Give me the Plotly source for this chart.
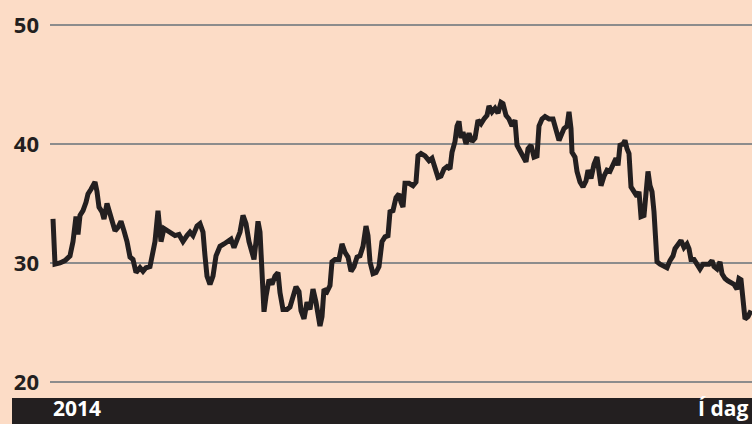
import plotly.graph_objects as go

# time offset (trading-day scale) and share price values
t = [1, 3, 8, 13, 18, 21, 24, 26, 28, 31, 34, 36, 39, 43, 45, 47, 50, 52, 55, 58,
     60, 63, 66, 69, 72, 75, 78, 81, 84, 88, 91, 94, 98, 100, 103, 106, 109, 112, 115, 118,
     123, 127, 131, 135, 138, 141, 145, 148, 151, 153, 155, 158, 161, 164, 168, 172, 176, 179, 182, 185,
     188, 191, 194, 197, 200, 202, 204, 206, 208, 210, 212, 214, 217, 220, 223, 226, 228, 231, 235, 238,
     241, 244, 247, 249, 252, 255, 258, 261, 264, 266, 268, 270, 272, 275, 278, 280, 283, 287, 290, 293,
     296, 299, 302, 305, 308, 311, 314, 316, 318, 321, 324, 327, 330, 333, 336, 338, 341, 344, 347, 349,
     351, 353, 357, 361, 364, 366, 369, 373, 377, 380, 383, 386, 389, 392, 395, 398, 400, 403, 405, 407,
     409, 411, 414, 417, 420, 423, 426, 429, 432, 435, 437, 440, 443, 446, 449, 451, 454, 457, 460, 463,
     465, 468, 471, 474, 476, 479, 482, 485, 487, 490, 493, 497, 501, 504, 507, 510, 512, 515, 517, 519,
     520, 523, 525, 528, 531, 534, 536, 539, 542, 545, 547, 549, 552, 555, 558, 561, 564, 566, 568, 571,
     573, 575, 577, 579, 582, 585, 587, 589, 592, 594, 596, 598, 600, 602, 603, 605, 608, 612, 615, 618,
     621, 623, 626, 629, 632, 635, 637, 639, 642, 645, 648, 651, 654, 657, 660, 662, 665, 668, 670, 673,
     676, 679, 682, 685, 687, 689, 691, 693, 696, 699]

price = [33.7, 29.9, 30.0, 30.2, 30.6, 31.8, 33.9, 32.4, 34.0, 34.4, 35.1, 35.8, 36.2, 36.8, 36.0, 34.7, 34.3, 33.7, 35.0, 34.1,
         33.5, 32.7, 33.0, 33.5, 32.7, 31.8, 30.5, 30.3, 29.2, 29.6, 29.3, 29.6, 29.7, 30.6, 31.8, 34.4, 31.8, 32.9, 32.7, 32.6,
         32.3, 32.4, 31.8, 32.3, 32.6, 32.3, 33.1, 33.3, 32.6, 30.6, 28.9, 28.2, 28.9, 30.6, 31.4, 31.6, 31.9, 32.0, 31.3, 31.9,
         32.6, 34.0, 33.3, 31.8, 30.8, 30.3, 31.8, 33.5, 32.6, 29.2, 25.9, 27.2, 28.6, 28.2, 28.9, 29.2, 27.5, 26.1, 26.1, 26.3,
         27.2, 28.0, 27.6, 26.0, 25.3, 26.7, 26.1, 27.8, 26.7, 25.3, 24.7, 25.5, 27.8, 27.6, 28.1, 30.1, 30.3, 30.3, 31.6, 30.9,
         30.5, 29.3, 29.7, 30.5, 30.6, 31.4, 33.1, 32.3, 30.1, 29.1, 29.2, 29.7, 31.8, 32.2, 32.3, 34.3, 34.4, 35.5, 35.8, 35.1,
         34.7, 36.7, 36.7, 36.5, 36.8, 39.0, 39.2, 39.0, 38.6, 38.8, 37.9, 37.2, 37.3, 37.9, 38.1, 37.9, 39.3, 40.2, 41.5, 41.9,
         40.5, 41.0, 40.0, 40.9, 40.2, 40.5, 42.0, 41.7, 42.1, 42.4, 43.2, 42.7, 43.0, 42.6, 43.5, 43.4, 42.4, 42.1, 41.5, 42.0,
         39.9, 39.4, 38.8, 38.5, 39.6, 39.9, 38.9, 39.0, 41.5, 42.1, 42.3, 42.1, 42.1, 41.3, 40.3, 40.9, 41.3, 41.5, 42.7, 41.3,
         39.3, 38.9, 37.7, 36.8, 36.4, 36.9, 37.8, 37.1, 38.3, 38.9, 37.8, 36.5, 37.3, 37.8, 37.7, 38.2, 38.8, 38.2, 39.9, 40.0,
         40.3, 39.6, 39.2, 36.4, 36.0, 35.6, 36.0, 33.9, 34.0, 36.2, 37.7, 36.5, 36.0, 34.3, 32.0, 30.1, 29.9, 29.7, 29.6, 30.2,
         30.6, 31.2, 31.6, 31.9, 31.3, 31.6, 31.2, 30.3, 30.3, 29.9, 29.5, 29.9, 29.9, 29.9, 30.2, 29.7, 29.5, 30.1, 29.1, 28.7,
         28.5, 28.4, 28.2, 27.8, 28.7, 28.6, 26.4, 25.3, 25.5, 26.0]

y_ticks = [20, 30, 40, 50]
start_label = "2014"
end_label = "Í dag"

BG = "#FCDCC6"
INK = "#231F20"
FONT = "Open Sans"

W, H = 752, 424
Y_LO, Y_HI = 19.9, 50.1
PX_PER_UNIT = (382 - 25) / 30.0
top_px = 25 - (Y_HI - 50) * PX_PER_UNIT
bot_px = 382 + (20 - Y_LO) * PX_PER_UNIT

fig = go.Figure()
fig.add_trace(go.Scatter(
    x=t[:len(price)], y=price, mode="lines",
    line=dict(color=INK, width=5),
    hoverinfo="skip", showlegend=False,
))

fig.update_layout(
    template="none",
    autosize=False,
    width=W, height=H,
    margin=dict(l=0, r=0, t=0, b=0, pad=0, autoexpand=False),
    paper_bgcolor=BG, plot_bgcolor=BG,
    showlegend=False,
    xaxis=dict(
        domain=[50 / W, 1], range=[-2, 700],
        showgrid=False, zeroline=False, showticklabels=False, showline=False,
        ticks="", automargin=False, fixedrange=True,
    ),
    yaxis=dict(
        domain=[(H - bot_px) / H, (H - top_px) / H], range=[Y_LO, Y_HI],
        tickvals=y_ticks, ticktext=[str(v) for v in y_ticks],
        showgrid=True, gridcolor="#8C8C8C", gridwidth=2,
        zeroline=False, showline=False, ticks="",
        ticklabelstandoff=10, automargin=False,
        tickfont=dict(family=FONT, size=22, color=INK, weight="bold"),
        fixedrange=True,
    ),
    shapes=[dict(
        type="rect", xref="paper", yref="paper",
        x0=12 / W, x1=1, y0=0, y1=26 / H,
        fillcolor=INK, line=dict(width=0), layer="above",
    )],
    annotations=[
        dict(text=start_label, xref="paper", yref="paper", x=51 / W, y=0,
             xanchor="left", yanchor="bottom", showarrow=False,
             font=dict(family=FONT, size=21, color="white", weight="bold")),
        dict(text=end_label, xref="paper", yref="paper", x=750 / W, y=0,
             xanchor="right", yanchor="bottom", showarrow=False,
             font=dict(family=FONT, size=21, color="white", weight="bold")),
    ],
)

fig.write_html(
    "out.html",
    config={"displayModeBar": False},
    post_script="document.body.style.margin='0';document.body.style.overflow='hidden';",
)
